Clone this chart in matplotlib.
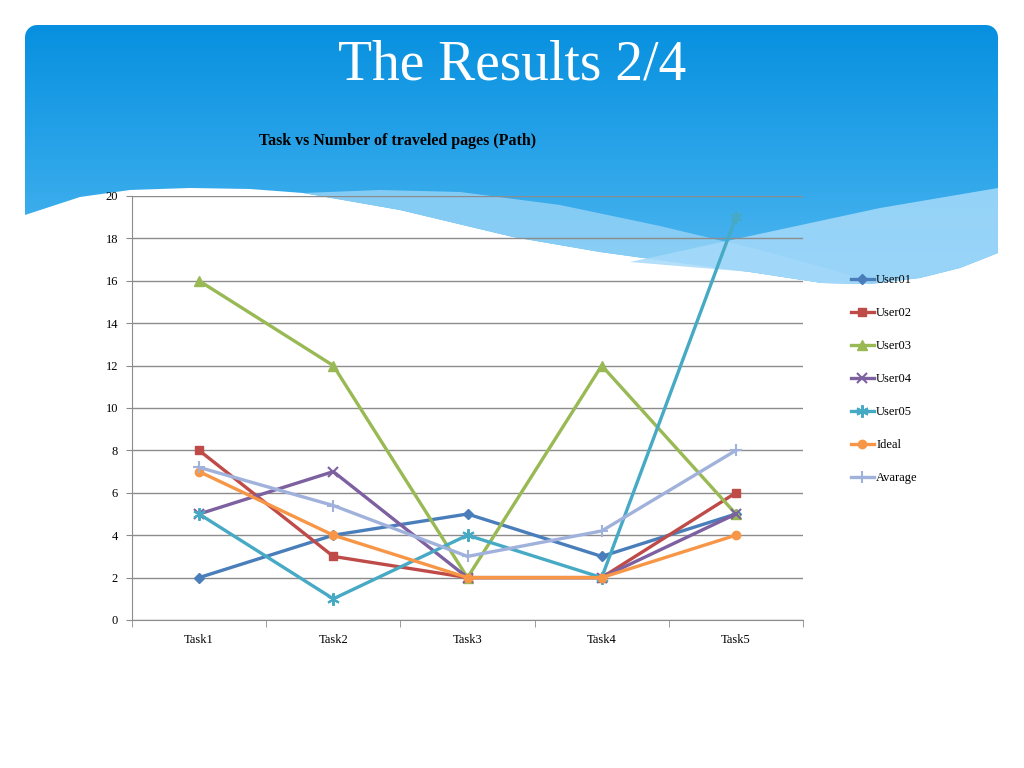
import matplotlib
matplotlib.use("Agg")
import matplotlib.pyplot as plt
import numpy as np
from matplotlib.patches import Polygon
from matplotlib.colors import LinearSegmentedColormap

# chart values
tasks = ["Task1", "Task2", "Task3", "Task4", "Task5"]
user01 = [2, 4, 5, 3, 5]
user02 = [8, 3, 2, 2, 6]
user03 = [16, 12, 2, 12, 5]
user04 = [5, 7, 2, 2, 5]
user05 = [5, 1, 4, 2, 19]
ideal = [7, 4, 2, 2, 4]
avarage = [7.2, 5.4, 3, 4.2, 8]

series = [
    ("User01", user01, "#4a7ebb", "D", 5),
    ("User02", user02, "#be4b48", "s", 6),
    ("User03", user03, "#98b954", "^", 7),
    ("User04", user04, "#7d60a0", "x", 7),
    ("User05", user05, "#46aac5", (6, 2, 0), 9),
    ("Ideal", ideal, "#f79646", "o", 6),
    ("Avarage", avarage, "#a0b2dc", "+", 9),
]

fig = plt.figure(figsize=(10.24, 7.68), dpi=100)

# slide background, drawn in pixel coordinates
bg = fig.add_axes([0, 0, 1, 1])
bg.set_xlim(0, 1024)
bg.set_ylim(768, 0)
bg.axis("off")

# white wave that closes the blue header
wave_x = [25, 80, 130, 190, 250, 303, 400, 513, 600, 658, 750, 822, 870, 920, 960, 998]
wave_y = [215, 197, 190, 188, 189, 193, 210, 237, 252, 260, 272, 283, 284, 278, 268, 253]

# rounded top corners
r = 12
a = np.linspace(0, np.pi / 2, 8)
corner_r = [(998 - r + r * np.cos(t), 25 + r - r * np.sin(t)) for t in a]
corner_l = [(25 + r - r * np.cos(t), 25 + r - r * np.sin(t)) for t in a[::-1]]
outline = list(zip(wave_x, wave_y)) + corner_r + corner_l
clip = Polygon(outline, closed=True, transform=bg.transData, facecolor="none", edgecolor="none")
bg.add_patch(clip)
sky = LinearSegmentedColormap.from_list("sky", ["#0790df", "#2aa4e9", "#52b8f0"])
grad = np.linspace(0, 1, 256).reshape(-1, 1)
im = bg.imshow(grad, cmap=sky, extent=[25, 998, 285, 25], aspect="auto", zorder=1)
im.set_clip_path(clip)

# pale bands over the wave on the right
band_a = [(303, 193), (380, 190), (460, 192), (560, 205), (660, 226), (760, 250), (840, 272),
          (870, 284), (822, 283), (750, 272), (658, 260), (600, 252), (513, 237), (400, 210)]
bg.add_patch(Polygon(band_a, closed=True, facecolor="#93d2f6", edgecolor="none", alpha=0.85, zorder=2))
band_b = [(630, 262), (750, 236), (880, 208), (998, 188), (998, 253), (960, 268), (920, 278),
          (870, 284), (822, 283), (750, 272)]
bg.add_patch(Polygon(band_b, closed=True, facecolor="#a6dafa", edgecolor="none", alpha=0.85, zorder=3))

bg.text(512, 66, "The Results 2/4", color="white", fontsize=40, family="Liberation Serif",
        ha="center", va="center", zorder=5)
bg.text(398, 141, "Task vs Number of traveled pages (Path)", color="black", fontsize=11.5,
        family="Liberation Serif", fontweight="bold", ha="center", va="center", zorder=5)

# line chart
ax = fig.add_axes([132 / 1024, 1 - 620 / 768, 671 / 1024, 424 / 768])
ax.patch.set_alpha(0)
x = np.arange(len(tasks))
for name, vals, col, mk, ms in series:
    thin = mk in ("x", "+") or isinstance(mk, tuple)
    ax.plot(x, vals, color=col, marker=mk, markersize=ms, linewidth=2.4, label=name,
            markeredgewidth=1.5 if thin else 1, markeredgecolor=col, markerfacecolor=col)

ax.set_xlim(-0.5, 4.5)
ax.set_ylim(0, 20)
ax.set_yticks(range(0, 21, 2))
ax.set_xticks(x)
ax.set_xticklabels(tasks)
ax.set_xticks(np.arange(-0.5, 5, 1), minor=True)
ax.yaxis.grid(True, color="#8c8c8c", linewidth=1)
ax.set_axisbelow(True)
for s in ["top", "right"]:
    ax.spines[s].set_visible(False)
ax.spines["left"].set_color("#8c8c8c")
ax.spines["bottom"].set_color("#8c8c8c")
ax.tick_params(axis="x", which="major", length=0, pad=10)
ax.tick_params(axis="x", which="minor", length=5, color="#8c8c8c")
ax.tick_params(axis="y", length=4, color="#8c8c8c", pad=6)
for lab in ax.get_xticklabels() + ax.get_yticklabels():
    lab.set_family("Liberation Serif")
    lab.set_fontsize(9)

ax.legend(loc="upper left", bbox_to_anchor=(1.055, 0.842), frameon=False,
          prop={"family": "Liberation Serif", "size": 9}, labelspacing=1.68,
          handlelength=1.8, handletextpad=0.2)

fig.savefig("out.png", dpi=100)
